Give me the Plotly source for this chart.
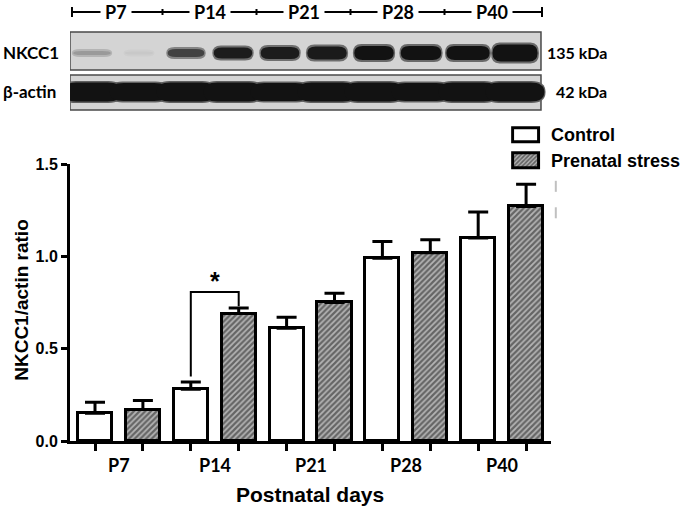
import plotly.graph_objects as go

# bar values
groups = ["P7", "P14", "P21", "P28", "P40"]
control = [0.15, 0.28, 0.61, 0.99, 1.10]
control_err = [0.06, 0.04, 0.06, 0.09, 0.14]
stress = [0.17, 0.69, 0.75, 1.02, 1.27]
stress_err = [0.05, 0.03, 0.05, 0.07, 0.12]

# western blot lanes (two lanes per age, control/stress)
nkcc1_level = [0.30, 0.06, 0.75, 0.95, 0.95, 0.96, 1.0, 1.0, 1.0, 1.0]
nkcc1_thick = [4, 3, 8, 11, 12, 13, 14, 14, 14, 17]
nkcc1_wide = [0.80, 0.60, 0.78, 0.82, 0.82, 0.84, 0.84, 0.86, 0.92, 0.96]
actin_level = [1.0] * 10
actin_thick = [19, 18, 19, 19, 18, 19, 19, 18, 19, 19]

FONT = "Liberation Sans"
BLOT_FONT = "Lato"
BG = (212, 212, 212)
DARK = (18, 18, 18)


def grey(level):
    c = [round(b * (1 - level) + d * level) for b, d in zip(BG, DARK)]
    return "rgb(%d,%d,%d)" % tuple(c)


def band(xc, yc, w, h, r=0.18):
    x0, x1 = xc - w / 2, xc + w / 2
    y0, y1 = yc - h / 2, yc + h / 2
    r = min(r, w / 2)
    return (f"M{x0 + r},{y0} L{x1 - r},{y0} Q{x1},{y0} {x1},{yc} "
            f"Q{x1},{y1} {x1 - r},{y1} L{x0 + r},{y1} Q{x0},{y1} {x0},{yc} "
            f"Q{x0},{y0} {x0 + r},{y0} Z")


ctrl_x = [2 * i for i in range(len(groups))]
str_x = [2 * i + 1 for i in range(len(groups))]
hatch = dict(shape="/", fgcolor="#151515", bgcolor="#b4b4b4", size=4, solidity=0.55)

fig = go.Figure()
fig.add_trace(go.Bar(x=ctrl_x, y=control, width=0.71,
                     marker=dict(color="white", line=dict(color="black", width=3)),
                     error_y=dict(type="data", array=control_err, arrayminus=[0] * 5,
                                  symmetric=False, color="black", thickness=3, width=10)))
fig.add_trace(go.Bar(x=str_x, y=stress, width=0.71,
                     marker=dict(color="#b4b4b4", pattern=hatch, line=dict(color="black", width=3)),
                     error_y=dict(type="data", array=stress_err, arrayminus=[0] * 5,
                                  symmetric=False, color="black", thickness=3, width=10)))

# legend boxes on their own little axes
fig.add_trace(go.Bar(y=[0], x=[1], base=0, orientation="h", width=0.57,
                     xaxis="x3", yaxis="y3",
                     marker=dict(color="white", line=dict(color="black", width=3))))
fig.add_trace(go.Bar(y=[1], x=[1], base=0, orientation="h", width=0.57,
                     xaxis="x3", yaxis="y3",
                     marker=dict(color="#b4b4b4", pattern=dict(hatch, size=3),
                                 line=dict(color="black", width=3))))

# invisible trace so the blot axes exist
fig.add_trace(go.Scatter(x=[0], y=[0], xaxis="x2", yaxis="y2", mode="markers",
                         marker=dict(opacity=0), hoverinfo="skip"))

shapes = []
annotations = []

# blot panels
ROW_N, ROW_A = 53, 92
for top, bot in [(32, 70), (75, 110)]:
    shapes.append(dict(type="rect", xref="x2", yref="y2", x0=-0.468, x1=9.553, y0=top, y1=bot,
                       fillcolor="#d4d4d4", line=dict(color="#4a4a4a", width=1.5), layer="below"))
for i in range(10):
    lv, h, w = nkcc1_level[i], nkcc1_thick[i], nkcc1_wide[i]
    shapes.append(dict(type="path", xref="x2", yref="y2", path=band(i, ROW_N, w + 0.06, h + 4),
                       fillcolor=grey(lv * 0.55), line=dict(width=0)))
    shapes.append(dict(type="path", xref="x2", yref="y2", path=band(i, ROW_N, w, h),
                       fillcolor=grey(lv), line=dict(width=0)))
for i in range(10):
    h = actin_thick[i]
    shapes.append(dict(type="path", xref="x2", yref="y2", path=band(i, ROW_A, 1.3, h + 3, 0.3),
                       fillcolor=grey(actin_level[i] * 0.6), line=dict(width=0)))
for i in range(10):
    h = actin_thick[i]
    shapes.append(dict(type="path", xref="x2", yref="y2", path=band(i, ROW_A, 1.25, h, 0.3),
                       fillcolor=grey(actin_level[i]), line=dict(width=0)))

# header line with age labels
HEAD = 12
shapes.append(dict(type="line", xref="x2", yref="y2", x0=-0.426, x1=9.574, y0=HEAD, y1=HEAD,
                   line=dict(color="black", width=2)))
for xv, tall in [(-0.426, 5), (1.5, 3), (3.5, 3), (5.5, 3), (7.5, 3), (9.574, 5)]:
    shapes.append(dict(type="line", xref="x2", yref="y2", x0=xv, x1=xv, y0=HEAD - tall, y1=HEAD + tall,
                       line=dict(color="black", width=2)))
for k, g in enumerate(groups):
    annotations.append(dict(x=2 * k + 0.5, y=HEAD, xref="x2", yref="y2", text="<b>%s</b>" % g,
                            showarrow=False, bgcolor="white", borderpad=4,
                            font=dict(family=BLOT_FONT, size=18, color="black")))

for txt, yv in [("NKCC1", ROW_N - 1), ("β-actin", ROW_A - 1)]:
    annotations.append(dict(x=0, y=yv, xref="paper", yref="y2", xanchor="left", showarrow=False,
                            xshift=-69, text="<b>%s</b>" % txt,
                            font=dict(family=BLOT_FONT, size=17, color="black")))
annotations.append(dict(x=9.553, y=ROW_N - 1, xref="x2", yref="y2", xanchor="left", xshift=4,
                        showarrow=False, text="<b>135 kDa</b>",
                        font=dict(family=BLOT_FONT, size=16, color="black")))
annotations.append(dict(x=9.553, y=ROW_A - 1, xref="x2", yref="y2", xanchor="left", xshift=13,
                        showarrow=False, text="<b>42 kDa</b>",
                        font=dict(family=BLOT_FONT, size=16, color="black")))

# significance bracket P14
shapes.append(dict(type="path", xref="x", yref="y",
                   path="M2,%s L2,0.807 L3,0.807 L3,0.73" % (control[1] + control_err[1] + 0.03),
                   line=dict(color="black", width=2)))
annotations.append(dict(x=2.5, y=0.807, xref="x", yref="y", yanchor="bottom", showarrow=False,
                        text="<b>*</b>", yshift=-5, font=dict(family=FONT, size=25, color="black")))

# group labels under the axis
for k, g in enumerate(groups):
    annotations.append(dict(x=2 * k + 0.5, y=0, xref="x", yref="y", yanchor="top", yshift=-11,
                            showarrow=False, text="<b>%s</b>" % g,
                            font=dict(family=BLOT_FONT, size=18, color="black")))

annotations.append(dict(x=0.499, y=-0.122, xref="paper", yref="paper", showarrow=False,
                        xanchor="center", yanchor="middle",
                        text="<b>Postnatal days</b>", font=dict(family=FONT, size=21, color="black")))
annotations.append(dict(x=-0.1, y=0.32, xref="paper", yref="paper", showarrow=False, textangle=-90,
                        xanchor="center", yanchor="middle",
                        text="<b>NKCC1/actin ratio</b>", font=dict(family=FONT, size=19, color="black")))

# legend text
for txt, yv in [("Control", 0), ("Prenatal stress", 1)]:
    annotations.append(dict(x=1.08, y=yv, xref="x3", yref="y3", xanchor="left", showarrow=False,
                            xshift=8, text="<b>%s</b>" % txt,
                            font=dict(family=FONT, size=18, color="black")))

# faint grey marks right of the last bar
for y0, y1 in [(0.59, 0.565), (0.53, 0.505)]:
    shapes.append(dict(type="line", xref="paper", yref="paper", x0=1.01, x1=1.01, y0=y0, y1=y1,
                       line=dict(color="#c0c0c0", width=2)))

fig.update_layout(
    width=688, height=510, autosize=False,
    margin=dict(l=70, r=137, t=0, b=69, pad=0, autoexpand=False),
    paper_bgcolor="white", plot_bgcolor="rgba(0,0,0,0)",
    showlegend=False, barmode="overlay", bargap=0,
    shapes=shapes, annotations=annotations,
    xaxis=dict(domain=[0, 1], range=[-0.522, 9.52], tickvals=list(range(10)), showticklabels=False,
               ticks="outside", ticklen=7, tickwidth=3, tickcolor="black", automargin=False,
               showline=True, linewidth=3, linecolor="black", showgrid=False, zeroline=False,
               fixedrange=True),
    yaxis=dict(domain=[0, 0.628], range=[0, 1.5], tickvals=[0, 0.5, 1.0, 1.5],
               ticktext=["<b>0.0</b>", "<b>0.5</b>", "<b>1.0</b>", "<b>1.5</b>"],
               ticks="outside", ticklen=6, tickwidth=3, tickcolor="black", automargin=False,
               tickfont=dict(family=FONT, size=16, color="black"),
               showline=True, linewidth=3, linecolor="black", showgrid=False, zeroline=False),
    xaxis2=dict(domain=[0, 1], range=[-0.468, 9.766], anchor="y2", visible=False, automargin=False),
    yaxis2=dict(domain=[0.746, 1], range=[112, 0], anchor="x2", visible=False, automargin=False),
    xaxis3=dict(domain=[0.917, 0.979], range=[-0.08, 1.08], anchor="y3", visible=False, automargin=False),
    yaxis3=dict(domain=[0.607, 0.723], range=[1.5, -0.5], anchor="x3", visible=False, automargin=False),
)

fig.write_html("out.html", config={"displayModeBar": False},
               post_script="document.body.style.margin='0';")
